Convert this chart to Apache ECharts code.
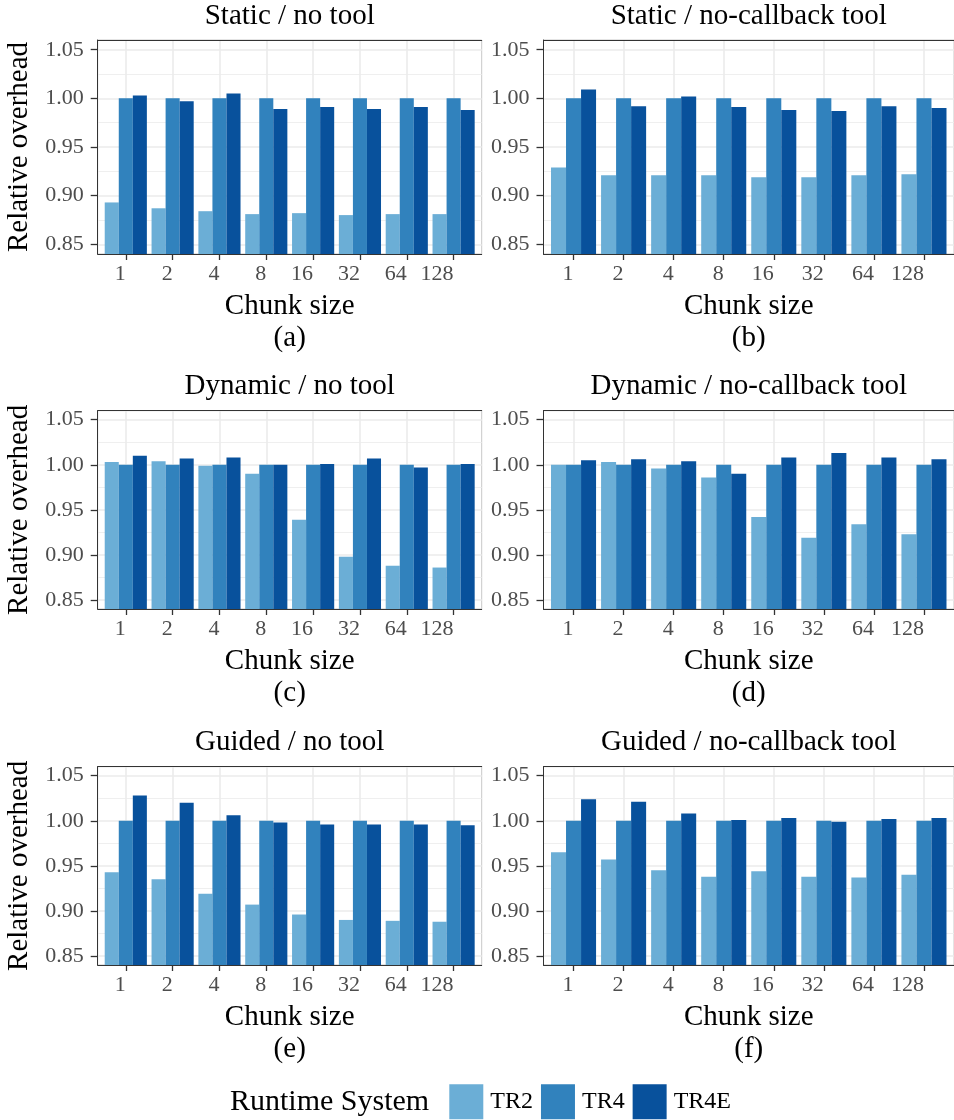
<!DOCTYPE html>
<html>
<head>
<meta charset="utf-8">
<script src="https://cdn.jsdelivr.net/npm/echarts@6/dist/echarts.min.js"></script>
<style>
html,body{margin:0;padding:0;background:#fff;}
#chart{width:954px;height:1120px;}
</style>
</head>
<body>
<div id="chart"></div>
<script>
// ---------- data ----------
const chunkLabels = ['1', '2', '4', '8', '16', '32', '64', '128'];
const chunkPositions = [1, 2, 3, 4, 5, 6, 7, 8];
const seriesNames = ['TR2', 'TR4', 'TR4E'];
const panelTitles = ['Static / no tool', 'Static / no-callback tool',
  'Dynamic / no tool', 'Dynamic / no-callback tool',
  'Guided / no tool', 'Guided / no-callback tool'];
const panelTags = ['(a)', '(b)', '(c)', '(d)', '(e)', '(f)'];
const yTicks = [0.85, 0.90, 0.95, 1.00, 1.05];
const yMinorTicks = [0.875, 0.925, 0.975, 1.025];

const staticNoTool_TR2  = [0.893, 0.887, 0.884, 0.881, 0.882, 0.880, 0.881, 0.881];
const staticNoTool_TR4  = [1.000, 1.000, 1.000, 1.000, 1.000, 1.000, 1.000, 1.000];
const staticNoTool_TR4E = [1.003, 0.997, 1.005, 0.989, 0.991, 0.989, 0.991, 0.988];

const staticNoCb_TR2  = [0.929, 0.921, 0.921, 0.921, 0.919, 0.919, 0.921, 0.922];
const staticNoCb_TR4  = [1.000, 1.000, 1.000, 1.000, 1.000, 1.000, 1.000, 1.000];
const staticNoCb_TR4E = [1.009, 0.992, 1.002, 0.991, 0.988, 0.987, 0.992, 0.990];

const dynamicNoTool_TR2  = [1.003, 1.004, 0.999, 0.990, 0.939, 0.898, 0.888, 0.886];
const dynamicNoTool_TR4  = [1.000, 1.000, 1.000, 1.000, 1.000, 1.000, 1.000, 1.000];
const dynamicNoTool_TR4E = [1.010, 1.007, 1.008, 1.000, 1.001, 1.007, 0.997, 1.001];

const dynamicNoCb_TR2  = [1.000, 1.003, 0.996, 0.986, 0.942, 0.919, 0.934, 0.923];
const dynamicNoCb_TR4  = [1.000, 1.000, 1.000, 1.000, 1.000, 1.000, 1.000, 1.000];
const dynamicNoCb_TR4E = [1.005, 1.006, 1.004, 0.990, 1.008, 1.013, 1.008, 1.006];

const guidedNoTool_TR2  = [0.943, 0.935, 0.919, 0.907, 0.896, 0.890, 0.889, 0.888];
const guidedNoTool_TR4  = [1.000, 1.000, 1.000, 1.000, 1.000, 1.000, 1.000, 1.000];
const guidedNoTool_TR4E = [1.028, 1.020, 1.006, 0.998, 0.996, 0.996, 0.996, 0.995];

const guidedNoCb_TR2  = [0.965, 0.957, 0.945, 0.938, 0.944, 0.938, 0.937, 0.940];
const guidedNoCb_TR4  = [1.000, 1.000, 1.000, 1.000, 1.000, 1.000, 1.000, 1.000];
const guidedNoCb_TR4E = [1.024, 1.021, 1.008, 1.001, 1.003, 0.999, 1.002, 1.003];

const panelData = [
  [staticNoTool_TR2, staticNoTool_TR4, staticNoTool_TR4E],
  [staticNoCb_TR2, staticNoCb_TR4, staticNoCb_TR4E],
  [dynamicNoTool_TR2, dynamicNoTool_TR4, dynamicNoTool_TR4E],
  [dynamicNoCb_TR2, dynamicNoCb_TR4, dynamicNoCb_TR4E],
  [guidedNoTool_TR2, guidedNoTool_TR4, guidedNoTool_TR4E],
  [guidedNoCb_TR2, guidedNoCb_TR4, guidedNoCb_TR4E]
];

// ---------- style / layout ----------
const FONT = '"Liberation Serif", "DejaVu Serif", serif';
const colors = ['#6baed6', '#3182bd', '#08519c'];
const colLeft = [97.7, 543.5];
const colWidth = [384, 411.5];
const rowTop = [40, 410.7, 766.7];
const rowHeight = [214, 198.3, 198.3];
const X_MIN = 0.4, X_MAX = 8.6, Y_MIN = 0.84, Y_MAX = 1.06;
const TITLE_SIZE = 29, TICK_SIZE = 22;

const grids = [], xAxes = [], yAxes = [], series = [];

for (let p = 0; p < 6; p++) {
  const r = Math.floor(p / 2), c = p % 2;
  grids.push({
    left: colLeft[c], top: rowTop[r], width: colWidth[c], height: rowHeight[r],
    show: true, borderColor: '#c8c8c8', borderWidth: 1, backgroundColor: '#fff',
    containLabel: false
  });
  // bottom axis: labels, ticks, line (drawn above bars)
  xAxes.push({
    type: 'value', gridIndex: p, position: 'bottom', min: X_MIN, max: X_MAX, z: 5,
    name: 'Chunk size\n' + panelTags[p], nameLocation: 'middle', nameGap: 36,
    nameTextStyle: { fontFamily: FONT, fontSize: TITLE_SIZE, color: '#000', lineHeight: 32 },
    axisLine: { show: true, lineStyle: { color: '#333', width: 1 } },
    axisTick: { show: true, length: 6, customValues: chunkPositions, lineStyle: { color: '#333', width: 1.3 } },
    axisLabel: {
      show: true, customValues: chunkPositions, align: 'right', margin: 9,
      formatter: v => chunkLabels[Math.round(v) - 1],
      fontFamily: FONT, fontSize: TICK_SIZE, color: '#4d4d4d'
    },
    splitLine: { show: false }
  });
  // top axis: panel title, top border, vertical gridlines (below bars)
  xAxes.push({
    type: 'value', gridIndex: p, position: 'top', min: X_MIN, max: X_MAX, z: 0,
    name: panelTitles[p], nameLocation: 'middle', nameGap: 9,
    nameTextStyle: { fontFamily: FONT, fontSize: TITLE_SIZE, color: '#000', lineHeight: 30 },
    axisLine: { show: true, lineStyle: { color: '#333', width: 1 } },
    axisTick: { show: false, customValues: chunkPositions },
    axisLabel: { show: false, customValues: chunkPositions },
    splitLine: { show: true, lineStyle: { color: '#ebebeb', width: 1.6 } }
  });
  // main y axis
  yAxes.push({
    type: 'value', gridIndex: p, min: Y_MIN, max: Y_MAX, z: 1,
    name: c === 0 ? 'Relative overhead' : '', nameLocation: 'middle', nameGap: 63,
    nameTextStyle: { fontFamily: FONT, fontSize: TITLE_SIZE, color: '#000', lineHeight: 30 },
    axisLine: { show: true, lineStyle: { color: '#333', width: 1 } },
    axisTick: { show: true, length: 7, customValues: yTicks, lineStyle: { color: '#333', width: 1.3 } },
    axisLabel: {
      show: true, customValues: yTicks, margin: 14,
      formatter: v => v.toFixed(2),
      fontFamily: FONT, fontSize: TICK_SIZE, color: '#4d4d4d'
    },
    splitLine: { show: true, lineStyle: { color: '#ebebeb', width: 1.6 } }
  });
  // minor y gridlines
  yAxes.push({
    type: 'value', gridIndex: p, min: Y_MIN, max: Y_MAX, z: 0,
    axisLine: { show: false },
    axisTick: { show: false, customValues: yMinorTicks },
    axisLabel: { show: false, customValues: yMinorTicks },
    splitLine: { show: true, lineStyle: { color: '#ededed', width: 0.9 } }
  });
  for (let s = 0; s < 3; s++) {
    series.push({
      type: 'bar', name: seriesNames[s],
      xAxisIndex: p * 2, yAxisIndex: p * 2,
      barWidth: '30%', barGap: '0%',
      itemStyle: { color: colors[s] },
      clip: true,
      data: panelData[p][s].map((v, i) => [chunkPositions[i], v])
    });
  }
}

const option = {
  animation: false,
  backgroundColor: '#fff',
  title: [{
    text: 'Runtime System', left: 230, top: 1087, padding: 0,
    textStyle: { fontFamily: FONT, fontSize: 30, fontWeight: 'normal', color: '#000' }
  }],
  legend: {
    data: seriesNames, left: 449.3, top: 1084.3, padding: 0,
    itemWidth: 34, itemHeight: 35, itemGap: 8, icon: 'rect',
    textStyle: { fontFamily: FONT, fontSize: 24, color: '#000', padding: [0, 0, 0, 2] },
    selectedMode: false
  },
  grid: grids,
  xAxis: xAxes,
  yAxis: yAxes,
  series: series
};

const chart = echarts.init(document.getElementById('chart'), null, { renderer: 'canvas' });
chart.setOption(option);
</script>
</body>
</html>
